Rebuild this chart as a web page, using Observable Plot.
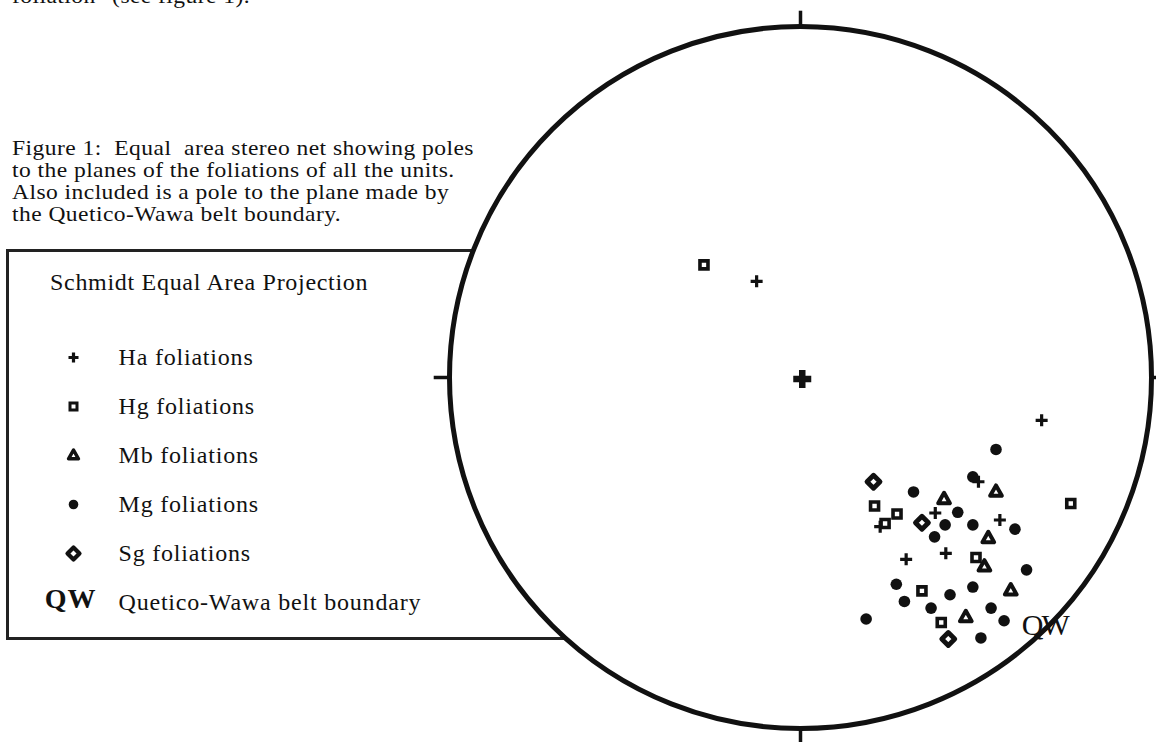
<!DOCTYPE html>
<html><head><meta charset="utf-8">
<script src="https://cdn.jsdelivr.net/npm/d3@7"></script>
<script src="https://cdn.jsdelivr.net/npm/@observablehq/plot@0.6"></script>
<style>
html,body{margin:0;padding:0;background:#fff;}
#page{position:relative;width:1156px;height:742px;overflow:hidden;font-family:"Liberation Serif","Times New Roman",serif;color:#111;}
#topline{position:absolute;left:12px;top:-15px;font-size:21px;line-height:22px;letter-spacing:0.4px;white-space:nowrap;transform:scaleX(1.12);transform-origin:0 0;}
#caption{position:absolute;left:12px;top:137px;font-size:21px;line-height:22px;letter-spacing:0.4px;white-space:nowrap;transform:scaleX(1.12);transform-origin:0 0;}
#legendBox{position:absolute;left:6px;top:249px;width:700px;height:391px;border:3px solid #222;box-sizing:border-box;z-index:0;}
#legendTitle{position:absolute;left:50px;top:268px;font-size:24px;line-height:28px;letter-spacing:0.7px;white-space:nowrap;z-index:1;}
#legendPlot{position:absolute;left:0;top:0;z-index:2;}
#net{position:absolute;left:0;top:0;z-index:3;}
</style></head>
<body>
<div id="page">
  <div id="topline">foliation" (see figure 1).</div>
  <div id="caption">Figure 1:&nbsp; Equal&nbsp; area stereo net showing poles<br>to the planes of the foliations of all the units.<br>Also included is a pole to the plane made by<br>the Quetico-Wawa belt boundary.</div>
  <div id="legendBox"></div>
  <div id="legendTitle">Schmidt Equal Area Projection</div>
  <div id="legendPlot"></div>
  <div id="net"></div>
</div>
<script>
// ---- Data: poles in equal-area net coordinates (East, North), unit circle = primitive ----
const haPoles = [[0.687,-0.122],[0.507,-0.297],[0.227,-0.425],[0.384,-0.386],[0.568,-0.406],[0.301,-0.518],[0.414,-0.501],[-0.125,0.274]];
const haPoleBold = [[0.005,-0.004]];
const hgPoles = [[-0.275,0.321],[0.211,-0.366],[0.275,-0.389],[0.241,-0.416],[0.500,-0.513],[0.346,-0.608],[0.401,-0.698],[0.770,-0.359]];
const mbPoles = [[0.557,-0.326],[0.409,-0.347],[0.535,-0.458],[0.524,-0.539],[0.599,-0.607],[0.471,-0.683]];
const mgPoles = [[0.557,-0.205],[0.491,-0.283],[0.322,-0.326],[0.448,-0.384],[0.412,-0.420],[0.491,-0.420],[0.611,-0.432],[0.382,-0.454],[0.644,-0.548],[0.273,-0.589],[0.426,-0.619],[0.491,-0.597],[0.296,-0.638],[0.372,-0.657],[0.543,-0.657],[0.187,-0.688],[0.580,-0.693],[0.514,-0.742]];
const sgPoles = [[0.208,-0.297],[0.346,-0.414],[0.421,-0.745]];
const qwPole = [[0.696,-0.705]];
const qwLabel = ["QW"];
const netCenter = [[0,0]];
const cardinalTicks = [[0,1],[1,0],[0,-1],[-1,0]]; // N, E, S, W
const legendKeys = ["Ha","Hg","Mb","Mg","Sg","QW"];
const legendLabels = ["Ha foliations","Hg foliations","Mb foliations","Mg foliations","Sg foliations","Quetico-Wawa belt boundary"];

// ---- Custom symbols ----
const plusSym = {draw(c, size){const r=Math.sqrt(size/Math.PI);c.moveTo(-r,0);c.lineTo(r,0);c.moveTo(0,-r);c.lineTo(0,r);}};
const squareSym = {draw(c, size){const r=Math.sqrt(size/Math.PI);c.rect(-r,-r,2*r,2*r);}};
const triSym = {draw(c, size){const r=Math.sqrt(size/Math.PI);c.moveTo(0,-r);c.lineTo(r*0.9,r*0.6);c.lineTo(-r*0.9,r*0.6);c.closePath();}};
const diamondSym = {draw(c, size){const r=Math.sqrt(size/Math.PI);c.moveTo(0,-r);c.lineTo(r,0);c.lineTo(0,r);c.lineTo(-r,0);c.closePath();}};

const W = 1156, H = 742, CX = 800, CY = 377, R = 351;
const ink = "#111";
const pt = arr => arr.map(([x,y]) => ({x,y}));

const net = Plot.plot({
  width: W, height: H,
  margin: 0,
  x: {axis: null, domain: [-CX/R, (W-CX)/R]},
  y: {axis: null, domain: [(CY-H)/R, CY/R]},
  style: {background: "transparent", fontFamily: "Liberation Serif, serif", color: ink, letterSpacing: "-2px"},
  marks: [
    Plot.dot(pt(netCenter), {x:"x", y:"y", r: R, fill: "white", stroke: ink, strokeWidth: 5}),
    Plot.link(pt(cardinalTicks), {x1: d=>d.x, y1: d=>d.y, x2: d=>d.x*1.045, y2: d=>d.y*1.045, stroke: ink, strokeWidth: 3.5}),
    Plot.dot(pt(haPoles), {x:"x", y:"y", symbol: plusSym, r: 6, stroke: ink, strokeWidth: 3.2, fill: "none"}),
    Plot.dot(pt(haPoleBold), {x:"x", y:"y", symbol: plusSym, r: 9, stroke: ink, strokeWidth: 6.5, fill: "none"}),
    Plot.dot(pt(hgPoles), {x:"x", y:"y", symbol: squareSym, r: 4, stroke: ink, strokeWidth: 3.6, fill: "white"}),
    Plot.dot(pt(mbPoles), {x:"x", y:"y", symbol: triSym, r: 6.5, stroke: ink, strokeWidth: 4, fill: "white", strokeLinejoin: "round"}),
    Plot.dot(pt(mgPoles), {x:"x", y:"y", r: 5.8, fill: ink, stroke: "none"}),
    Plot.dot(pt(sgPoles), {x:"x", y:"y", symbol: diamondSym, r: 6.5, stroke: ink, strokeWidth: 4.8, fill: "white", strokeLinejoin: "round"}),
    Plot.text(pt(qwPole), {x:"x", y:"y", text: (d,i) => qwLabel[i], fontSize: 30, fill: ink, fontFamily: "Liberation Serif, serif"})
  ]
});
document.getElementById("net").appendChild(net);

// ---- Legend ----
const rows = legendKeys.map((k,i) => ({key:k, label: legendLabels[i]}));
const legend = Plot.plot({
  width: 560, height: H,
  marginLeft: 73, marginRight: 0, marginTop: 357, marginBottom: H-602,
  x: {axis: null, domain: [0,1]},
  y: {axis: null, type: "point", domain: legendKeys, padding: 0},
  style: {background: "transparent", fontFamily: "Liberation Serif, serif", color: ink, letterSpacing: "0.8px"},
  marks: [
    Plot.dot(rows.filter(d=>d.key==="Ha"), {y:"key", frameAnchor:"left", symbol: plusSym, r: 5, stroke: ink, strokeWidth: 3.2, fill:"none"}),
    Plot.dot(rows.filter(d=>d.key==="Hg"), {y:"key", frameAnchor:"left", symbol: squareSym, r: 3.5, stroke: ink, strokeWidth: 3, fill:"white"}),
    Plot.dot(rows.filter(d=>d.key==="Mb"), {y:"key", frameAnchor:"left", symbol: triSym, r: 5.5, stroke: ink, strokeWidth: 3.5, fill:"white", strokeLinejoin:"round"}),
    Plot.dot(rows.filter(d=>d.key==="Mg"), {y:"key", frameAnchor:"left", r: 4.8, fill: ink, stroke:"none"}),
    Plot.dot(rows.filter(d=>d.key==="Sg"), {y:"key", frameAnchor:"left", symbol: diamondSym, r: 6, stroke: ink, strokeWidth: 4.2, fill:"white", strokeLinejoin:"round"}),
    Plot.text(rows.filter(d=>d.key==="QW"), {y:"key", frameAnchor:"left", text:"key", textAnchor:"middle", dx: -3, dy: -3, fontSize: 28, fontWeight: "bold", fill: ink, fontFamily: "Liberation Serif, serif"}),
    Plot.text(rows, {y:"key", text:"label", frameAnchor:"left", dx: 45, textAnchor:"start", fontSize: 24, fill: ink, fontFamily: "Liberation Serif, serif"})
  ]
});
document.getElementById("legendPlot").appendChild(legend);
</script>
</body></html>
